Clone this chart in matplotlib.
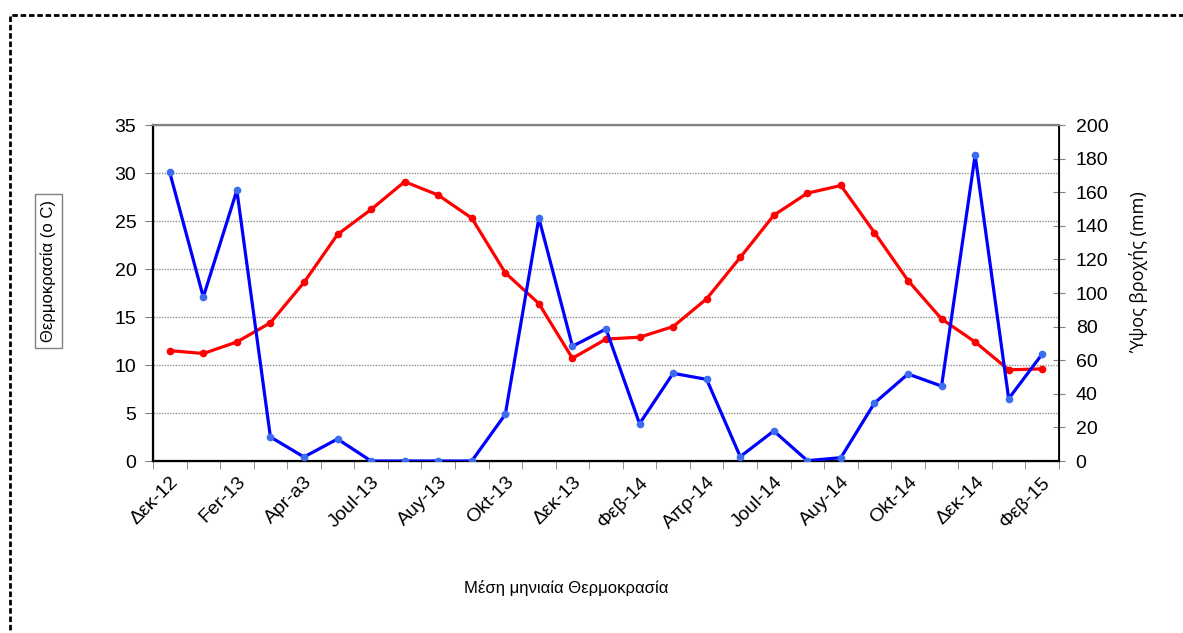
import matplotlib.pyplot as plt
from matplotlib.patches import Rectangle

plt.rcParams['font.family'] = ['Liberation Sans', 'DejaVu Sans']

months = ["Δεκ-12", "Ιαν-13", "Fer-13", "Μαρ-13", "Apr-a3", "Μαϊ-13", "Joul-13",
          "Ιουλ-13", "Auy-13", "Σεπ-13", "Okt-13", "Νοε-13", "Δεκ-13", "Ιαν-14",
          "Φεβ-14", "Μαρ-14", "Απρ-14", "Μαϊ-14", "Joul-14", "Ιουλ-14", "Auy-14",
          "Σεπ-14", "Okt-14", "Νοε-14", "Δεκ-14", "Ιαν-15", "Φεβ-15"]

# mean monthly temperature (o C)
temperature = [11.5, 11.2, 12.4, 14.4, 18.6, 23.6, 26.2, 29.1, 27.7, 25.3, 19.6, 16.4, 10.7,
               12.7, 12.9, 14.0, 16.9, 21.2, 25.6, 27.9, 28.7, 23.8, 18.8, 14.8, 12.4, 9.5, 9.6]

# monthly rainfall (mm)
rainfall = [171.8, 97.6, 161.1, 14.3, 2.4, 13.1, 0, 0, 0, 0, 27.8, 144.6, 68.3,
            78.6, 22.2, 52.2, 48.6, 2.6, 17.9, 0.2, 2.0, 34.5, 51.8, 44.6, 182.0, 37.1, 63.7]

x = list(range(len(months)))

fig = plt.figure(figsize=(11.83, 6.33), dpi=100)
ax = fig.add_axes([0.1293, 0.2717, 0.7659, 0.5308])
ax2 = ax.twinx()

ax.plot(x, temperature, color="#ff0000", lw=2.3, marker="o", ms=4.5, zorder=3)
ax2.plot(x, rainfall, color="#0000ff", lw=2.3, marker="o", ms=4.5,
         mfc="#3c6cf0", mec="#3c6cf0", zorder=3)

ax.set_xlim(-0.5, len(months) - 0.5)
ax.set_ylim(0, 35)
ax2.set_ylim(0, 200)
ax.set_yticks(range(0, 36, 5))
ax2.set_yticks(range(0, 201, 20))

ax.set_xticks(x[::2])
ax.set_xticklabels(months[::2], rotation=45, ha="right", rotation_mode="anchor")
ax.set_xticks([i + 0.5 for i in range(-1, len(months))], minor=True)
ax.tick_params(axis="x", which="major", length=0, labelsize=14, pad=9)
ax.tick_params(axis="x", which="minor", length=6, direction="out", color="#808080")
ax.tick_params(axis="y", labelsize=14, length=6, direction="out", color="#808080", pad=6)
ax2.tick_params(axis="y", labelsize=14, length=8, direction="inout", color="#808080", pad=8)

for y in range(5, 35, 5):
    ax.axhline(y, color="#909090", lw=1, ls=(0, (1, 1)), zorder=1)

for s in ["left", "bottom"]:
    ax.spines[s].set_linewidth(1.6)
ax2.spines["right"].set_linewidth(1.3)
ax2.spines["top"].set_color("#808080")
ax2.spines["top"].set_linewidth(1.6)

fig.text(0.041, 0.572, "Θερμοκρασία (o C)", rotation=90, ha="center", va="center",
         fontsize=12, bbox=dict(boxstyle="square,pad=0.35", fc="white", ec="#808080", lw=1))
fig.text(0.962, 0.57, "Ύψος βροχής (mm)", rotation=90, ha="center", va="center",
         fontsize=13, family=["Open Sans", "DejaVu Sans"])
fig.text(0.479, 0.071, "Μέση μηνιαία Θερμοκρασία", ha="center", va="center", fontsize=12)

fig.patches.append(Rectangle((0.0085, -0.1), 1.2, 1.1 - 15 / 633, transform=fig.transFigure,
                             fill=False, ec="black", lw=2, ls=(0, (2, 1))))

fig.savefig("out.png", dpi=100)
